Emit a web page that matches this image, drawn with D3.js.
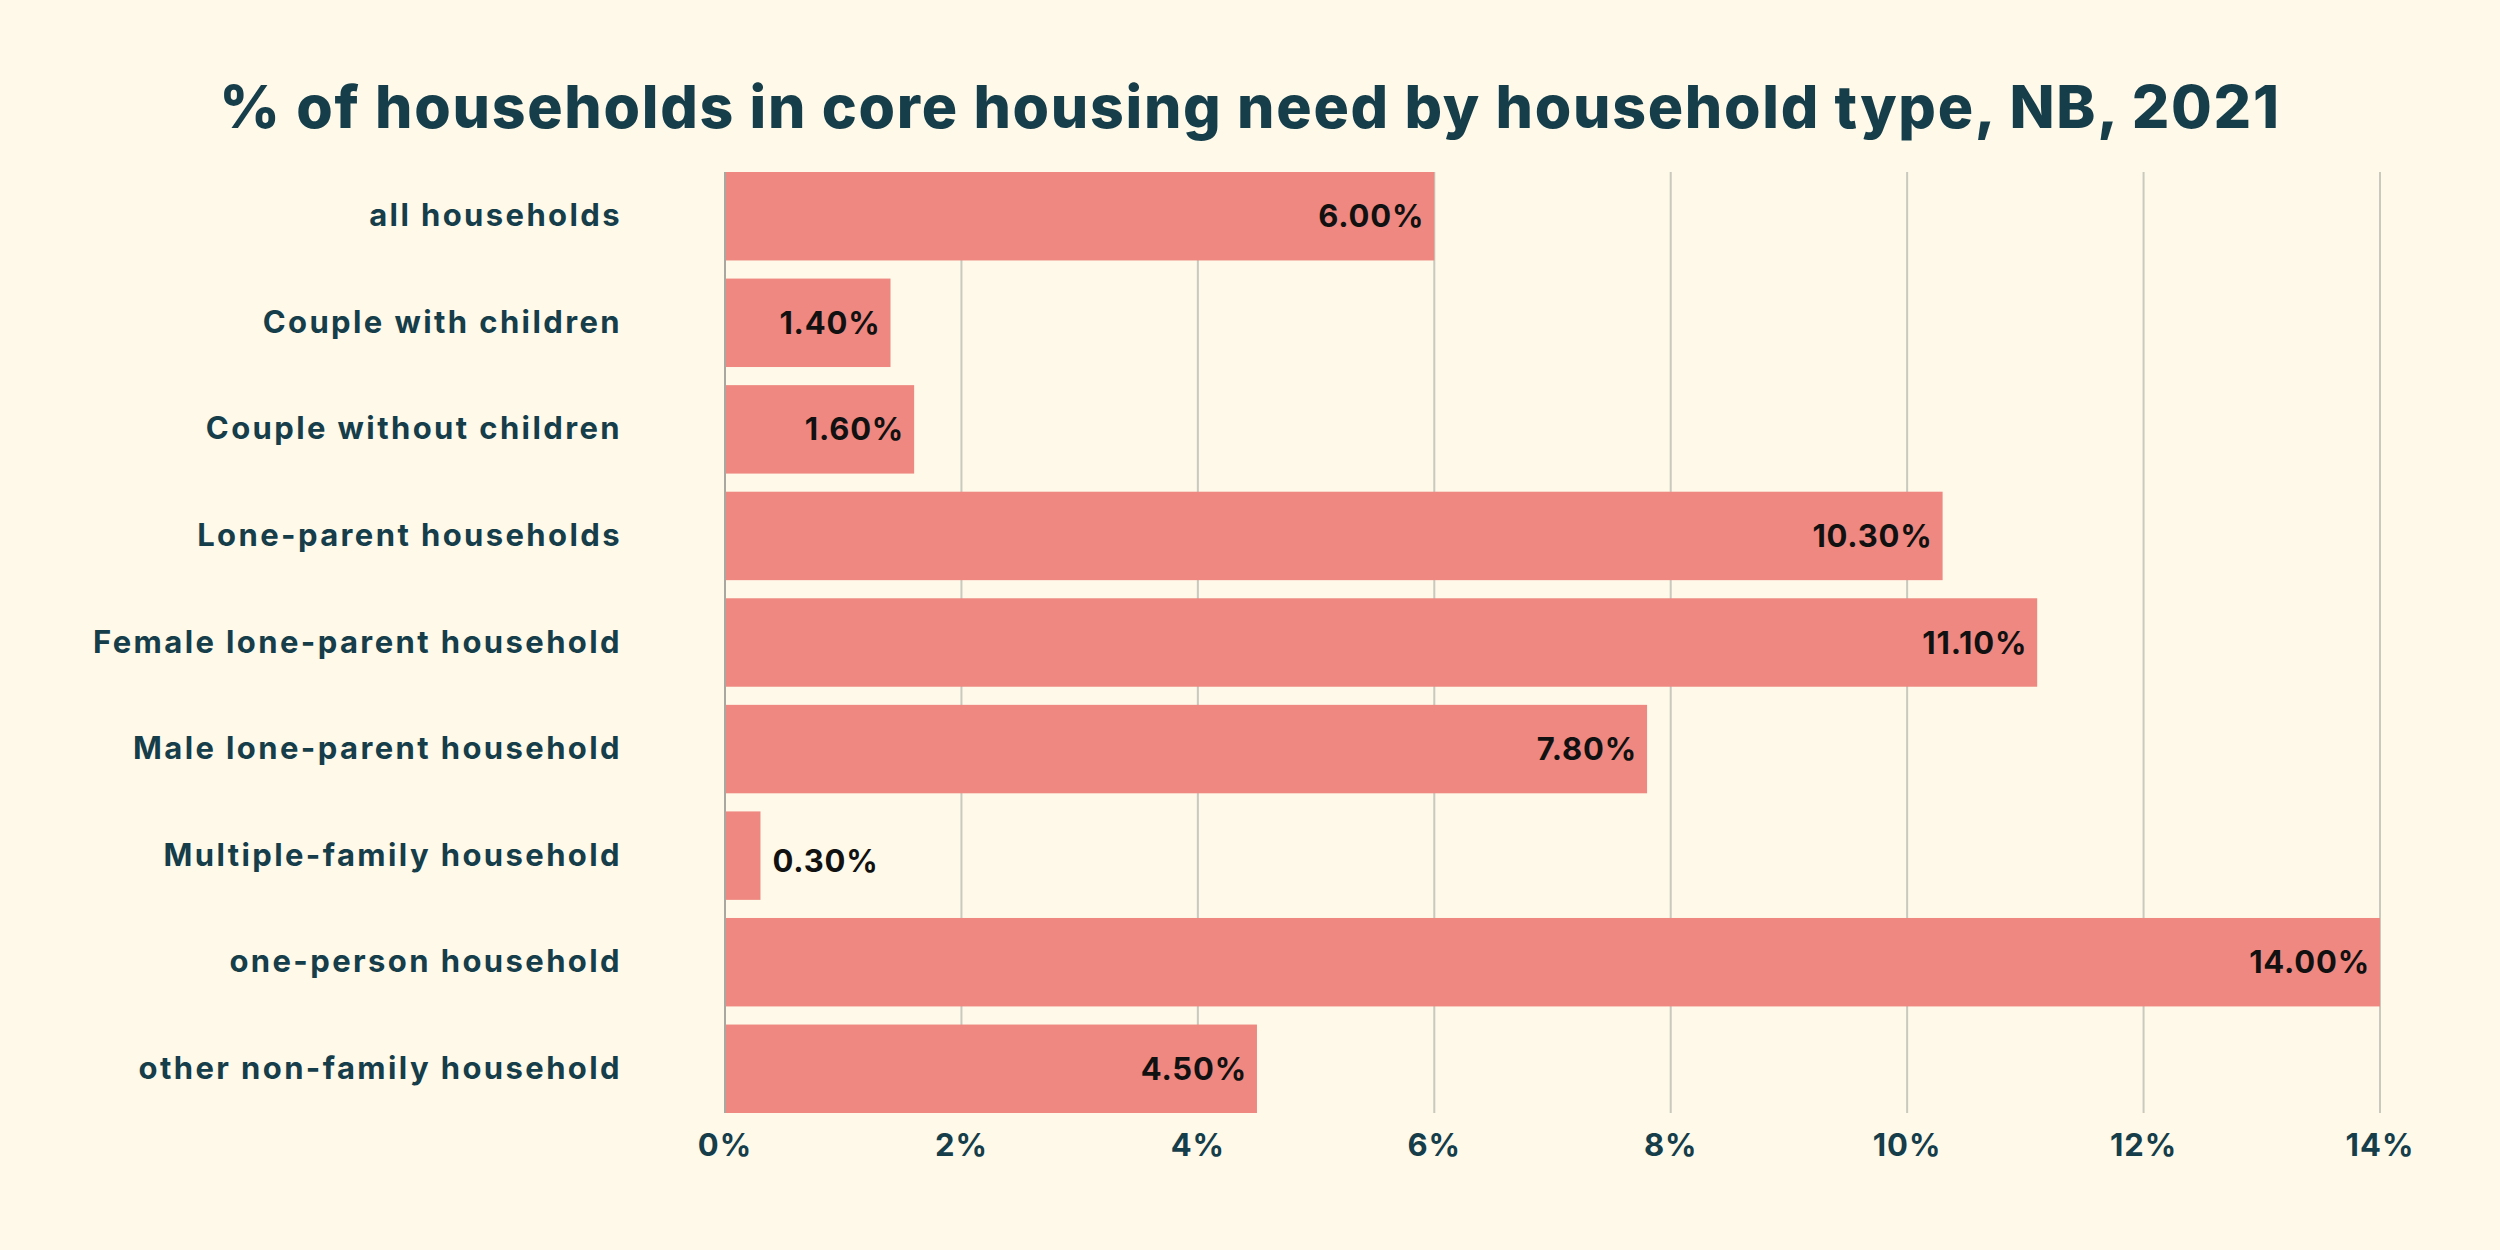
<!DOCTYPE html>
<html>
<head>
<meta charset="utf-8">
<script src="https://cdn.jsdelivr.net/npm/d3@7"></script>
<style>
  body { margin: 0; background: #fef9e9; }
  text { font-family: "Inter", "Open Sans", sans-serif; }
</style>
</head>
<body>
<svg id="chart" width="2500" height="1250"></svg>
<script>
const categories = ["all households", "Couple with children", "Couple without children",
  "Lone-parent households", "Female lone-parent household", "Male lone-parent household",
  "Multiple-family household", "one-person household", "other non-family household"];
const values = [6.0, 1.4, 1.6, 10.3, 11.1, 7.8, 0.3, 14.0, 4.5];
const ticks = [0, 2, 4, 6, 8, 10, 12, 14];

const svg = d3.select("#chart");
svg.append("rect").attr("width", 2500).attr("height", 1250).attr("fill", "#fef9e9");

const x = d3.scaleLinear().domain([0, 14]).range([725, 2380]);
const y = d3.scaleBand().domain(categories).range([172, 1113]).paddingInner(0.17).paddingOuter(0);

svg.append("text").attr("x", 1250).attr("y", 128).attr("text-anchor", "middle")
  .attr("font-size", 59).attr("font-weight", 800).attr("fill", "#153d4a")
  .attr("letter-spacing", 1.7)
  .text("% of households in core housing need by household type, NB, 2021");

// grid
svg.selectAll(".grid").data(ticks.slice(1)).enter().append("line")
  .attr("x1", d => x(d)).attr("x2", d => x(d))
  .attr("y1", 172).attr("y2", 1113)
  .attr("stroke", "#c9c9be").attr("stroke-width", 2);

svg.selectAll(".bar").data(values).enter().append("rect")
  .attr("x", x(0)).attr("y", (d, i) => y(categories[i]))
  .attr("width", d => x(d) - x(0)).attr("height", y.bandwidth())
  .attr("fill", "#ee8881");

svg.append("line").attr("x1", x(0)).attr("x2", x(0)).attr("y1", 172).attr("y2", 1113)
  .attr("stroke", "#a8a8a0").attr("stroke-width", 2);

svg.selectAll(".val").data(values).enter().append("text")
  .attr("x", d => d < 1 ? x(d) + 12 : x(d) - 10)
  .attr("y", (d, i) => y(categories[i]) + y.bandwidth() / 2 + (d < 1 ? 16 : 11))
  .attr("text-anchor", d => d < 1 ? "start" : "end")
  .attr("font-size", 31).attr("font-weight", 700).attr("fill", "#111")
  .attr("letter-spacing", 0.8)
  .text(d => d.toFixed(2) + "%");

svg.selectAll(".cat").data(categories).enter().append("text")
  .attr("x", 622).attr("y", d => y(d) + y.bandwidth() / 2 + 10)
  .attr("text-anchor", "end").attr("font-size", 31).attr("font-weight", 700)
  .attr("letter-spacing", 2.4)
  .attr("fill", "#153d4a").text(d => d);

svg.selectAll(".tick").data(ticks).enter().append("text")
  .attr("x", d => x(d)).attr("y", 1156).attr("text-anchor", "middle")
  .attr("font-size", 31).attr("font-weight", 700).attr("fill", "#153d4a")
  .attr("letter-spacing", 1)
  .text(d => d + "%");
</script>
</body>
</html>
